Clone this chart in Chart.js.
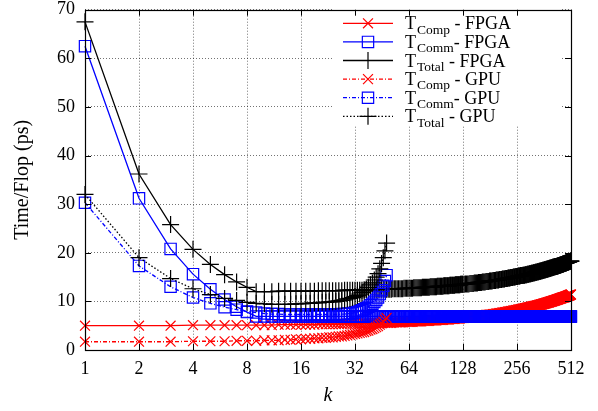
<!DOCTYPE html>
<html><head><meta charset="utf-8">
<script src="https://cdn.jsdelivr.net/npm/chart.js@4/dist/chart.umd.min.js"></script>
<style>html,body{margin:0;padding:0;background:#fff}</style>
</head><body>
<canvas id="c" width="598" height="411"></canvas>
<script>
const xTicks = [1,2,4,8,16,32,64,128,256,512];
const yTicks = [0,10,20,30,40,50,60,70];

const kFPGA = [1,2,3,4,5,6,7,8,9,10,11,12,13,14,15,16,17,18,19,20,21,22,23,24,25,26,27,28,29,30,31,32,
33,34,35,36,37,38,39,40,41,42,43,44,45,46,47,48,49,50,51,52,53,54,55,56,57,58,59,60,61,62,63,64,
65,66,67,68,69,70,71,72,73,74,75,76,77,78,79,80,81,82,83,84,85,86,87,88,89,90,91,92,93,94,95,96,
97,98,99,100,101,102,103,104,105,106,107,108,109,110,111,112,113,114,115,116,117,118,119,120,121,122,123,124,125,126,127,128,
130,132,134,136,138,140,142,144,146,148,150,152,154,156,158,160,162,164,166,168,170,172,174,176,178,180,182,184,186,188,190,192,
194,196,198,200,202,204,206,208,210,212,214,216,218,220,222,224,226,228,230,232,234,236,238,240,242,244,246,248,250,252,254,256,
258,260,262,264,266,268,270,272,274,276,278,280,282,284,286,288,290,292,294,296,298,300,302,304,306,308,310,312,314,316,318,320,
322,324,326,328,330,332,334,336,338,340,342,344,346,348,350,352,354,356,358,360,362,364,366,368,370,372,374,376,378,380,382,384,
386,388,390,392,394,396,398,400,402,404,406,408,410,412,414,416,418,420,422,424,426,428,430,432,434,436,438,440,442,444,446,448,
450,452,454,456,458,460,462,464,466,468,470,472,474,476,478,480,482,484,486,488,490,492,494,496,498,500,502,504,506,508,510,512];

const tCompFPGA = [5.0,5.0,5.0,5.1,5.1,5.1,5.1,5.1,5.1,5.1,5.1,5.2,5.2,5.2,5.2,5.2,5.2,5.2,5.2,5.3,5.3,5.3,5.3,5.3,5.3,5.3,5.3,5.4,5.4,5.4,5.4,5.4,
5.4,5.4,5.4,5.5,5.5,5.5,5.5,5.5,5.5,5.5,5.5,5.6,5.6,5.6,5.6,5.6,5.6,5.6,5.6,5.7,5.7,5.7,5.7,5.7,5.7,5.7,5.7,5.8,5.8,5.8,5.8,5.8,
5.8,5.8,5.8,5.9,5.9,5.9,5.9,5.9,5.9,5.9,5.9,6.0,6.0,6.0,6.0,6.0,6.0,6.0,6.0,6.1,6.1,6.1,6.1,6.1,6.1,6.1,6.1,6.2,6.2,6.2,6.2,6.2,
6.2,6.2,6.2,6.3,6.3,6.3,6.3,6.3,6.3,6.3,6.3,6.4,6.4,6.4,6.4,6.4,6.4,6.4,6.4,6.5,6.5,6.5,6.5,6.5,6.5,6.5,6.5,6.6,6.6,6.6,6.6,6.6,
6.6,6.7,6.7,6.7,6.7,6.8,6.8,6.8,6.8,6.9,6.9,6.9,6.9,7.0,7.0,7.0,7.0,7.1,7.1,7.1,7.1,7.2,7.2,7.2,7.2,7.3,7.3,7.3,7.3,7.4,7.4,7.4,
7.4,7.5,7.5,7.5,7.5,7.6,7.6,7.6,7.6,7.7,7.7,7.7,7.7,7.8,7.8,7.8,7.8,7.9,7.9,7.9,7.9,8.0,8.0,8.0,8.0,8.1,8.1,8.1,8.1,8.2,8.2,8.2,
8.2,8.3,8.3,8.3,8.3,8.4,8.4,8.4,8.4,8.5,8.5,8.5,8.5,8.6,8.6,8.6,8.6,8.7,8.7,8.7,8.7,8.8,8.8,8.8,8.8,8.9,8.9,8.9,8.9,9.0,9.0,9.0,
9.0,9.1,9.1,9.1,9.1,9.2,9.2,9.2,9.2,9.3,9.3,9.3,9.3,9.4,9.4,9.4,9.4,9.5,9.5,9.5,9.5,9.6,9.6,9.6,9.6,9.7,9.7,9.7,9.7,9.8,9.8,9.8,
9.8,9.9,9.9,9.9,9.9,10.0,10.0,10.0,10.0,10.1,10.1,10.1,10.1,10.2,10.2,10.2,10.2,10.3,10.3,10.3,10.3,10.4,10.4,10.4,10.4,10.5,10.5,10.5,10.5,10.6,10.6,10.6,
10.6,10.7,10.7,10.7,10.7,10.8,10.8,10.8,10.8,10.9,10.9,10.9,10.9,11.0,11.0,11.0,11.0,11.1,11.1,11.1,11.1,11.2,11.2,11.2,11.2,11.3,11.3,11.3,11.3,11.4,11.4,11.4];

const tCommFPGA = [62.5,31.2,20.8,15.6,12.5,10.4,8.9,7.8,6.9,6.9,6.9,6.9,6.9,6.9,6.9,6.9,6.9,6.9,6.9,6.9,6.9,6.9,6.9,6.9,6.9,6.9,6.9,6.9,6.9,6.9,6.9,6.9,
6.9,6.9,6.9,6.9,6.9,6.9,6.9,6.9,6.9,6.9,6.9,6.9,6.9,6.9,6.9,6.9,6.9,6.9,6.9,6.9,6.9,6.9,6.9,6.9,6.9,6.9,6.9,6.9,6.9,6.9,6.9,6.9,
6.9,6.9,6.9,6.9,6.9,6.9,6.9,6.9,6.9,6.9,6.9,6.9,6.9,6.9,6.9,6.9,6.9,6.9,6.9,6.9,6.9,6.9,6.9,6.9,6.9,6.9,6.9,6.9,6.9,6.9,6.9,6.9,
6.9,6.9,6.9,6.9,6.9,6.9,6.9,6.9,6.9,6.9,6.9,6.9,6.9,6.9,6.9,6.9,6.9,6.9,6.9,6.9,6.9,6.9,6.9,6.9,6.9,6.9,6.9,6.9,6.9,6.9,6.9,6.9,
6.9,6.9,6.9,6.9,6.9,6.9,6.9,6.9,6.9,6.9,6.9,6.9,6.9,6.9,6.9,6.9,6.9,6.9,6.9,6.9,6.9,6.9,6.9,6.9,6.9,6.9,6.9,6.9,6.9,6.9,6.9,6.9,
6.9,6.9,6.9,6.9,6.9,6.9,6.9,6.9,6.9,6.9,6.9,6.9,6.9,6.9,6.9,6.9,6.9,6.9,6.9,6.9,6.9,6.9,6.9,6.9,6.9,6.9,6.9,6.9,6.9,6.9,6.9,6.9,
6.9,6.9,6.9,6.9,6.9,6.9,6.9,6.9,6.9,6.9,6.9,6.9,6.9,6.9,6.9,6.9,6.9,6.9,6.9,6.9,6.9,6.9,6.9,6.9,6.9,6.9,6.9,6.9,6.9,6.9,6.9,6.9,
6.9,6.9,6.9,6.9,6.9,6.9,6.9,6.9,6.9,6.9,6.9,6.9,6.9,6.9,6.9,6.9,6.9,6.9,6.9,6.9,6.9,6.9,6.9,6.9,6.9,6.9,6.9,6.9,6.9,6.9,6.9,6.9,
6.9,6.9,6.9,6.9,6.9,6.9,6.9,6.9,6.9,6.9,6.9,6.9,6.9,6.9,6.9,6.9,6.9,6.9,6.9,6.9,6.9,6.9,6.9,6.9,6.9,6.9,6.9,6.9,6.9,6.9,6.9,6.9,
6.9,6.9,6.9,6.9,6.9,6.9,6.9,6.9,6.9,6.9,6.9,6.9,6.9,6.9,6.9,6.9,6.9,6.9,6.9,6.9,6.9,6.9,6.9,6.9,6.9,6.9,6.9,6.9,6.9,6.9,6.9,6.9];

const tTotalFPGA = [67.5,36.2,25.8,20.7,17.6,15.5,14.0,12.9,12.0,12.0,12.0,12.1,12.1,12.1,12.1,12.1,12.1,12.1,12.1,12.2,12.2,12.2,12.2,12.2,12.2,12.2,12.2,12.3,12.3,12.3,12.3,12.3,
12.3,12.3,12.3,12.4,12.4,12.4,12.4,12.4,12.4,12.4,12.4,12.5,12.5,12.5,12.5,12.5,12.5,12.5,12.5,12.6,12.6,12.6,12.6,12.6,12.6,12.6,12.6,12.7,12.7,12.7,12.7,12.7,
12.7,12.7,12.7,12.8,12.8,12.8,12.8,12.8,12.8,12.8,12.8,12.9,12.9,12.9,12.9,12.9,12.9,12.9,12.9,13.0,13.0,13.0,13.0,13.0,13.0,13.0,13.0,13.1,13.1,13.1,13.1,13.1,
13.1,13.1,13.1,13.2,13.2,13.2,13.2,13.2,13.2,13.2,13.2,13.3,13.3,13.3,13.3,13.3,13.3,13.3,13.3,13.4,13.4,13.4,13.4,13.4,13.4,13.4,13.4,13.5,13.5,13.5,13.5,13.5,
13.5,13.6,13.6,13.6,13.6,13.7,13.7,13.7,13.7,13.8,13.8,13.8,13.8,13.9,13.9,13.9,13.9,14.0,14.0,14.0,14.0,14.1,14.1,14.1,14.1,14.2,14.2,14.2,14.2,14.3,14.3,14.3,
14.3,14.4,14.4,14.4,14.4,14.5,14.5,14.5,14.5,14.6,14.6,14.6,14.6,14.7,14.7,14.7,14.7,14.8,14.8,14.8,14.8,14.9,14.9,14.9,14.9,15.0,15.0,15.0,15.0,15.1,15.1,15.1,
15.1,15.2,15.2,15.2,15.2,15.3,15.3,15.3,15.3,15.4,15.4,15.4,15.4,15.5,15.5,15.5,15.5,15.6,15.6,15.6,15.6,15.7,15.7,15.7,15.7,15.8,15.8,15.8,15.8,15.9,15.9,15.9,
15.9,16.0,16.0,16.0,16.0,16.1,16.1,16.1,16.1,16.2,16.2,16.2,16.2,16.3,16.3,16.3,16.3,16.4,16.4,16.4,16.4,16.5,16.5,16.5,16.5,16.6,16.6,16.6,16.6,16.7,16.7,16.7,
16.7,16.8,16.8,16.8,16.8,16.9,16.9,16.9,16.9,17.0,17.0,17.0,17.0,17.1,17.1,17.1,17.1,17.2,17.2,17.2,17.2,17.3,17.3,17.3,17.3,17.4,17.4,17.4,17.4,17.5,17.5,17.5,
17.5,17.6,17.6,17.6,17.6,17.7,17.7,17.7,17.7,17.8,17.8,17.8,17.8,17.9,17.9,17.9,17.9,18.0,18.0,18.0,18.0,18.1,18.1,18.1,18.1,18.2,18.2,18.2,18.2,18.3,18.3,18.3];

const kGPU = [1,2,3,4,5,6,7,8,9,10,11,12,13,14,15,16,17,18,19,20,21,22,23,24,25,26,27,28,29,30,31,32,33,34,35,36,37,38,39,40,41,42,43,44,45,46,47,48];
const tCompGPU = [1.7,1.7,1.7,1.8,1.8,1.8,1.9,1.9,1.9,2.0,2.0,2.0,2.1,2.1,2.2,2.2,2.3,2.3,2.4,2.4,2.5,2.5,2.6,2.6,2.7,2.8,2.8,2.9,3.0,3.1,3.2,3.3,3.4,3.5,3.6,3.7,3.9,4.0,4.2,4.3,4.5,4.7,4.9,5.2,5.5,5.8,6.2,6.6];
const tCommGPU = [30.3,17.3,13.0,10.8,9.6,8.8,8.3,7.9,7.7,7.5,7.4,7.4,7.3,7.3,7.3,7.3,7.3,7.3,7.3,7.3,7.3,7.3,7.3,7.3,7.3,7.3,7.4,7.4,7.5,7.5,7.6,7.7,7.8,8.0,8.2,8.4,8.6,8.9,9.2,9.5,9.9,10.3,10.8,11.5,12.3,13.2,14.2,15.4];
const tTotalGPU = [32.0,19.0,14.7,12.6,11.4,10.6,10.2,9.8,9.6,9.5,9.4,9.4,9.4,9.4,9.5,9.5,9.6,9.6,9.7,9.7,9.8,9.8,9.9,9.9,10.0,10.1,10.2,10.3,10.5,10.6,10.8,11.0,11.2,11.5,11.8,12.1,12.5,12.9,13.4,13.8,14.4,15.0,15.7,16.7,17.8,19.0,20.4,22.0];

const legendSub = ['Comp','Comm','Total','Comp','Comm','Total'];
const legendRest = [' - FPGA','- FPGA',' - FPGA',' - GPU','- GPU',' - GPU'];

const SERIF = '"Liberation Serif", "DejaVu Serif", serif';
const RED = '#ff0000', BLUE = '#0000ff', BLACK = '#000000';

const styles = [
  {color: RED,   dash: [],          point: 'crossRot', r: 7},
  {color: BLUE,  dash: [],          point: 'rect',     r: 8},
  {color: BLACK, dash: [],          point: 'cross',    r: 8.5},
  {color: RED,   dash: [4,2,1,2],   point: 'crossRot', r: 7},
  {color: BLUE,  dash: [4,2,1,2],   point: 'rect',     r: 8},
  {color: BLACK, dash: [1.5,2],     point: 'cross',    r: 8.5}
];
const seriesK = [kFPGA,kFPGA,kFPGA,kGPU,kGPU,kGPU];
const seriesV = [tCompFPGA,tCommFPGA,tTotalFPGA,tCompGPU,tCommGPU,tTotalGPU];

const datasets = styles.map((s,i) => ({
  label: 'T' + legendSub[i] + legendRest[i],
  data: seriesK[i].map((k,j) => ({x: k, y: seriesV[i][j]})),
  borderColor: s.color, backgroundColor: 'rgba(0,0,0,0)',
  borderWidth: 1.3, borderDash: s.dash,
  pointStyle: s.point, pointRadius: s.r, pointHoverRadius: s.r,
  pointBorderColor: s.color, pointBackgroundColor: 'rgba(0,0,0,0)', pointBorderWidth: 1.2,
  tension: 0, fill: false, clip: false, order: 6 - i
}));

function marker(ctx, style, x, y, r, color) {
  ctx.save();
  ctx.strokeStyle = color; ctx.lineWidth = 1.2; ctx.setLineDash([]);
  ctx.beginPath();
  if (style === 'crossRot') {
    const o = r * Math.SQRT1_2;
    ctx.moveTo(x - o, y - o); ctx.lineTo(x + o, y + o);
    ctx.moveTo(x + o, y - o); ctx.lineTo(x - o, y + o);
  } else if (style === 'rect') {
    const o = r * Math.SQRT1_2;
    ctx.rect(x - o, y - o, 2 * o, 2 * o);
  } else {
    ctx.moveTo(x - r, y); ctx.lineTo(x + r, y);
    ctx.moveTo(x, y - r); ctx.lineTo(x, y + r);
  }
  ctx.stroke();
  ctx.restore();
}

const framePlugin = {
  id: 'framePlugin',
  beforeDatasetsDraw(chart) {
    const ctx = chart.ctx;
    ctx.save(); ctx.fillStyle = '#ffffff'; ctx.fillRect(333, 9, 227, 116); ctx.restore();
  },
  afterDatasetsDraw(chart) {
    const {ctx, chartArea: a, scales} = chart;
    ctx.save();
    ctx.strokeStyle = '#000'; ctx.lineWidth = 1; ctx.setLineDash([]);
    ctx.beginPath();
    xTicks.forEach(v => {
      const px = Math.round(scales.x.getPixelForValue(v)) + 0.5;
      ctx.moveTo(px, a.bottom); ctx.lineTo(px, a.bottom - 6);
      ctx.moveTo(px, a.top); ctx.lineTo(px, a.top + 6);
    });
    yTicks.forEach(v => {
      const py = Math.round(scales.y.getPixelForValue(v)) + 0.5;
      ctx.moveTo(a.left, py); ctx.lineTo(a.left + 6, py);
      ctx.moveTo(a.right, py); ctx.lineTo(a.right - 6, py);
    });
    ctx.stroke();
    ctx.lineWidth = 1.2;
    ctx.strokeRect(Math.round(a.left) + 0.5, Math.round(a.top) + 0.5, Math.round(a.right - a.left), Math.round(a.bottom - a.top));
    styles.forEach((s, i) => {
      const ly = 23.3 + i * 18.6;
      ctx.save();
      ctx.strokeStyle = s.color; ctx.lineWidth = 1.3; ctx.setLineDash(s.dash);
      ctx.beginPath(); ctx.moveTo(343, ly); ctx.lineTo(393, ly); ctx.stroke();
      ctx.restore();
      marker(ctx, s.point, 368, ly, s.r, s.color);
      ctx.fillStyle = '#000'; ctx.textBaseline = 'alphabetic'; ctx.textAlign = 'left';
      ctx.font = '18px ' + SERIF;
      ctx.fillText('T', 405, ly + 6);
      const wT = ctx.measureText('T').width;
      ctx.font = '13.5px ' + SERIF;
      ctx.fillText(legendSub[i], 405 + wT + 1, ly + 10.3);
      const wS = ctx.measureText(legendSub[i]).width;
      ctx.font = '18px ' + SERIF;
      ctx.fillText(legendRest[i], 405 + wT + 1 + wS, ly + 6);
    });
    ctx.restore();
  }
};

new Chart(document.getElementById('c'), {
  type: 'line',
  data: { datasets },
  options: {
    responsive: false, animation: false, devicePixelRatio: 1,
    layout: { padding: { left: 0, right: 27, top: 8, bottom: 0 } },
    plugins: { legend: { display: false }, tooltip: { enabled: false } },
    events: [],
    scales: {
      x: {
        type: 'logarithmic', min: 1, max: 512,
        afterBuildTicks: s => { s.ticks = xTicks.map(v => ({ value: v })); },
        afterFit: s => { s.height = 61; s.paddingLeft = 0; s.paddingRight = 0; },
        ticks: { callback: v => String(v), color: '#000', font: { family: SERIF, size: 18 }, padding: 8, maxRotation: 0, minRotation: 0, autoSkip: false },
        grid: { color: 'rgba(0,0,0,0.55)', lineWidth: 1, drawTicks: false },
        border: { display: false, dash: [1, 2] },
        title: { display: true, text: 'k', color: '#000', font: { family: SERIF, size: 20, style: 'italic' }, padding: { top: 0, bottom: 3 } }
      },
      y: {
        type: 'linear', min: 0, max: 70,
        afterBuildTicks: s => { s.ticks = yTicks.map(v => ({ value: v })); },
        afterFit: s => { s.width = 85; s.paddingTop = 0; s.paddingBottom = 0; },
        ticks: { callback: v => String(v), color: '#000', font: { family: SERIF, size: 18 }, padding: 10 },
        grid: { color: 'rgba(0,0,0,0.55)', lineWidth: 1, drawTicks: false },
        border: { display: false, dash: [1, 2] },
        title: { display: true, text: 'Time/Flop (ps)', color: '#000', font: { family: SERIF, size: 20 }, padding: { top: 11, bottom: 0 } }
      }
    }
  },
  plugins: [framePlugin]
});
</script>
</body></html>
